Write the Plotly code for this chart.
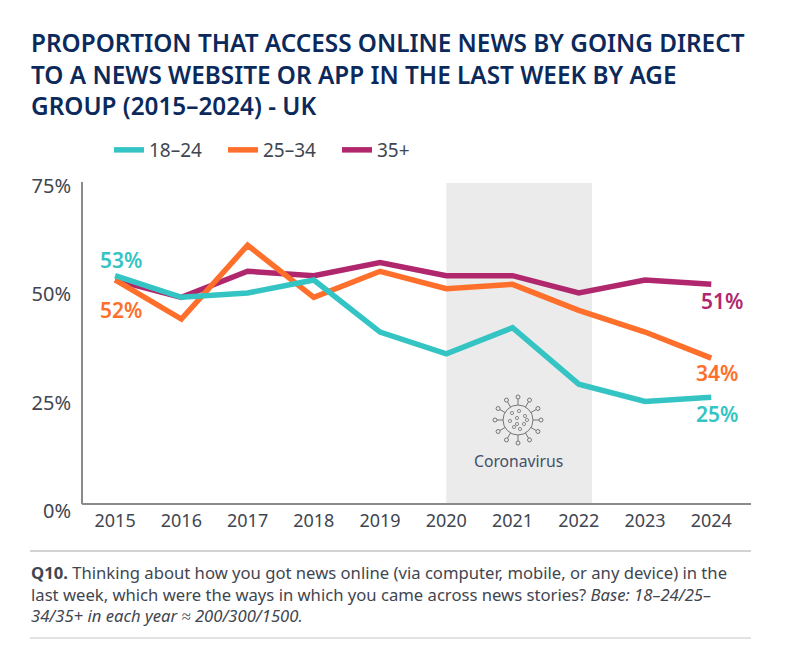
import math
import plotly.graph_objects as go

W, H = 792, 655
L, R, T, B = 82, 751, 182, 510
AXIS_Y = 504

years = [2015, 2016, 2017, 2018, 2019, 2020, 2021, 2022, 2023, 2024]
age_18_24 = [54, 49, 50, 53, 41, 36, 42, 29, 25, 26]
age_25_34 = [53, 44, 61, 49, 55, 51, 52, 46, 41, 35]
age_35_plus = [53, 49, 55, 54, 57, 54, 54, 50, 53, 52]
series_names = ["18–24", "25–34", "35+"]
y_ticks = [0, 25, 50, 75]

TEAL, ORANGE, MAGENTA = "#35C4C4", "#FF6F2C", "#B0276E"
NAVY, TEXT, GREY = "#0B2A5B", "#3F4650", "#8A8A8A"
FONT = "Noto Sans"


def px(x):
    return (x - L) / (R - L)


def py(y):
    return (B - y) / (B - T)


fig = go.Figure()
for name, vals, col in zip(series_names[::-1], [age_35_plus, age_25_34, age_18_24], [MAGENTA, ORANGE, TEAL]):
    fig.add_trace(go.Scatter(x=years, y=vals, name=name, mode="lines",
                             line=dict(color=col, width=5.5), cliponaxis=False))

shapes = [
    dict(type="rect", xref="x", yref="paper", x0=2020, x1=2022.2, y0=py(AXIS_Y), y1=py(183),
         fillcolor="#EBEBEB", line_width=0, layer="below"),
    dict(type="line", xref="paper", yref="paper", x0=0, x1=0, y0=py(AXIS_Y), y1=1,
         line=dict(color=GREY, width=2)),
    dict(type="line", xref="paper", yref="paper", x0=px(30), x1=px(751), y0=py(551), y1=py(551),
         line=dict(color="#C4C4C4", width=1.5)),
    dict(type="line", xref="paper", yref="paper", x0=px(30), x1=px(751), y0=py(638), y1=py(638),
         line=dict(color="#D8D8D8", width=1.5)),
]

# Decorative virus icon
cx, cy, r = 518, 420, 15
ic = "#757575"


def circ(x, y, rad, width=1):
    return dict(type="circle", xref="paper", yref="paper", x0=px(x - rad), x1=px(x + rad),
                y0=py(y + rad), y1=py(y - rad), line=dict(color=ic, width=width))


shapes.append(circ(cx, cy, r))
for i in range(12):
    a = i * math.pi / 6 + math.pi / 2
    x1, y1 = cx + r * math.cos(a), cy + r * math.sin(a)
    x2, y2 = cx + 21 * math.cos(a), cy + 21 * math.sin(a)
    shapes.append(dict(type="line", xref="paper", yref="paper", x0=px(x1), x1=px(x2), y0=py(y1), y1=py(y2),
                       line=dict(color=ic, width=1)))
    shapes.append(circ(cx + 23 * math.cos(a), cy + 23 * math.sin(a), 2))
for dx, dy in [(-6, -7), (1, -9), (7, -4), (-8, 1), (-1, -2), (6, 4), (-4, 7), (2, 9), (-1, 4), (9, 0)]:
    shapes.append(circ(cx + dx, cy + dy, 1.6, 0.8))


def txt(x, y, s, size, color=TEXT, anchor="left", weight=400):
    return dict(xref="paper", yref="paper", x=px(x), y=py(y), text=s, showarrow=False, xanchor=anchor,
                yanchor="middle", align="left", xshift=-1,
                font=dict(size=size, color=color, family=FONT, weight=weight))


ann = [
    txt(30, 74, "PROPORTION THAT ACCESS ONLINE NEWS BY GOING DIRECT<br>"
                "TO A NEWS WEBSITE OR APP IN THE LAST WEEK BY AGE<br>"
                "GROUP (2015–2024) - UK", 24.3, NAVY, weight=600),
    txt(99, 260, "53%", 21, TEAL, weight=600),
    txt(99, 310, "52%", 21, ORANGE, weight=600),
    txt(700, 301, "51%", 21, MAGENTA, weight=600),
    txt(695, 373, "34%", 21, ORANGE, weight=600),
    txt(695, 414, "25%", 21, TEAL, weight=600),
    txt(519, 461, "Coronavirus", 15.7, "#3F5068", "center"),
    txt(30, 594, "<b>Q10.</b> Thinking about how you got news online (via computer, mobile, or any device) in the<br>"
                 "last week, which were the ways in which you came across news stories? <i>Base: 18–24/25–</i><br>"
                 "<i>34/35+ in each year ≈ 200/300/1500.</i>", 16.65),
]

fig.update_layout(
    width=W, height=H, autosize=False,
    margin=dict(l=L, r=W - R, t=T, b=H - B),
    plot_bgcolor="white", paper_bgcolor="white",
    font=dict(family=FONT, color=TEXT, size=16),
    shapes=shapes, annotations=ann,
    showlegend=True,
    legend=dict(orientation="h", x=px(109), y=py(131), xanchor="left", yanchor="top",
                traceorder="reversed", font=dict(size=19, color=TEXT), entrywidth=69, entrywidthmode="pixels",
                itemwidth=30, bgcolor="rgba(0,0,0,0)"),
    xaxis=dict(range=[2014.5, 2024.6], tickmode="array", tickvals=years, ticktext=[str(y) for y in years],
               showgrid=False, zeroline=False, showline=True, linecolor=GREY, linewidth=2, ticks="",
               anchor="free", position=py(AXIS_Y), tickfont=dict(size=18, color=TEXT)),
    yaxis=dict(range=[0, (B - T) / 4.34], tickmode="array", tickvals=y_ticks, ticktext=[f"{v}%" for v in y_ticks],
               showgrid=False, zeroline=False, showline=False, ticks="",
               tickfont=dict(size=20, color=TEXT), ticklabelstandoff=10, ticklabelshift=1),
)
fig.write_html("out.html", config={"displayModeBar": False}, post_script='document.body.style.margin="0";')
